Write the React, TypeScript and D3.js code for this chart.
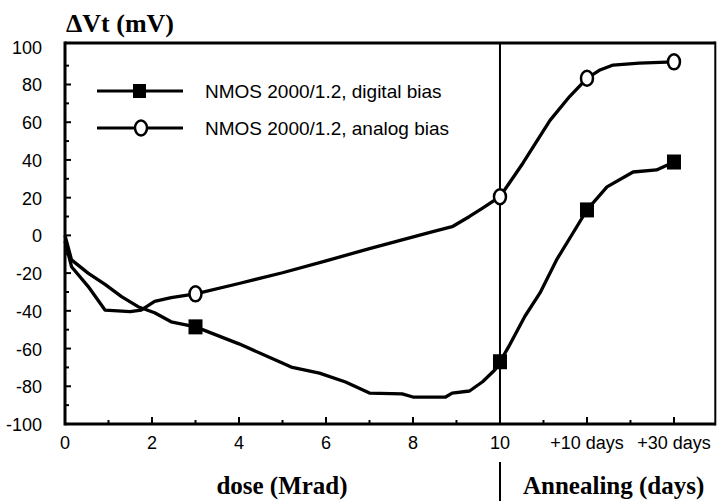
import * as d3 from "d3";

// dose axis: 0..10 Mrad, then annealing steps (12 = +10 days, 14 = +30 days)
const tickPos = [1, 2, 3, 4, 5, 6, 7, 8, 9, 10, 11, 12, 13, 14];
const majorTicks = [2, 4, 6, 8, 10, 12, 14];
const xLabelPos = [0, 2, 4, 6, 8, 10, 12, 14];
const xLabelText = ["0", "2", "4", "6", "8", "10", "+10 days", "+30 days"];

const yTickPos = [-90, -80, -70, -60, -50, -40, -30, -20, -10, 0, 10, 20, 30, 40, 50, 60, 70, 80, 90];
const yLabels = [100, 80, 60, 40, 20, 0, -20, -40, -60, -80, -100];

const digitalX = [0, 0.15, 0.53, 0.92, 1.3, 1.68, 2.06, 2.44, 3, 4, 4.93, 5.2, 5.85, 6.45, 7.0, 7.75, 8.0, 8.75, 8.9, 9.3, 9.6, 9.88, 10, 10.2, 10.57, 10.92, 11.3, 11.79, 12, 12.46, 13.06, 13.6, 14];
const digitalY = [0, -13, -20, -26, -32.5, -37.8, -41, -45.8, -48.5, -57.5, -67, -69.8, -73, -77.7, -83.6, -84, -85.7, -85.7, -83.6, -82.5, -77.6, -71.4, -67, -59, -43, -30.5, -13, 5.5, 13.5, 25.7, 33.6, 34.7, 38.9];

const analogX = [0, 0.15, 0.53, 0.92, 1.5, 1.75, 2.06, 2.44, 3, 4, 5, 6, 7, 7.6, 8.37, 8.9, 9.29, 9.6, 10, 10.53, 11.15, 11.6, 12, 12.3, 12.6, 13.2, 14];
const analogY = [-3, -16.6, -27, -39.6, -40.4, -39.6, -35, -33, -31, -25.5, -19.8, -13.5, -7, -3.3, 1.5, 4.6, 9.9, 14.4, 20.5, 38.4, 61, 73.6, 83.3, 87.7, 90.3, 91.3, 92];

const markX = [3, 10, 12, 14];
const digitalMarkY = [-48.5, -67, 13.5, 38.9];
const analogMarkY = [-31, 20.5, 83.3, 92];

const legendLabels = ["NMOS 2000/1.2, digital bias", "NMOS 2000/1.2, analog bias"];

const sans = "'Liberation Sans', Arial, sans-serif";
const serif = "'Liberation Serif', 'Times New Roman', serif";

export default function App() {
  const x = d3.scaleLinear().domain([0, 14.95]).range([65, 715.3]);
  const y = d3.scaleLinear().domain([-100, 102]).range([424, 43]);

  const line = d3
    .line<[number, number]>()
    .x((d) => x(d[0]))
    .y((d) => y(d[1]));

  const digitalPts = digitalX.map((v, i) => [v, digitalY[i]] as [number, number]);
  const analogPts = analogX.map((v, i) => [v, analogY[i]] as [number, number]);

  const left = x(0);
  const right = x(14.95);
  const top = y(102);
  const bottom = y(-100);

  return (
    <svg
      width={717}
      height={501}
      style={{ position: "absolute", left: 0, top: 0, background: "#fff" }}
    >
      {/* title */}
      <text x={66} y={32} fontFamily={serif} fontWeight="bold" fontSize={26}>
        ΔVt (mV)
      </text>

      {/* frame */}
      <line x1={left} x2={right} y1={top} y2={top} stroke="#000" strokeWidth={3} />
      <line x1={left} x2={right} y1={bottom} y2={bottom} stroke="#000" strokeWidth={3} />
      <line x1={left} x2={left} y1={top - 1.5} y2={bottom + 1.5} stroke="#000" strokeWidth={3} />
      <line x1={right} x2={right} y1={top - 1.5} y2={bottom + 1.5} stroke="#000" strokeWidth={2} />

      {/* y ticks */}
      {yTickPos.map((v) => (
        <line
          key={"yt" + v}
          x1={left}
          x2={left + (v % 20 === 0 ? 6 : 4)}
          y1={y(v)}
          y2={y(v)}
          stroke="#000"
          strokeWidth={2}
        />
      ))}
      {yLabels.map((v) => (
        <text
          key={"yl" + v}
          x={42}
          y={y(v) + 7}
          textAnchor="end"
          fontFamily={sans}
          fontSize={18}
        >
          {v}
        </text>
      ))}

      {/* x ticks */}
      {tickPos.map((v) => (
        <line
          key={"xt" + v}
          x1={x(v)}
          x2={x(v)}
          y1={bottom}
          y2={bottom - (majorTicks.includes(v) ? 7 : 4)}
          stroke="#000"
          strokeWidth={2}
        />
      ))}
      {xLabelPos.map((v, i) => (
        <text
          key={"xl" + v}
          x={x(v)}
          y={449}
          textAnchor="middle"
          fontFamily={sans}
          fontSize={18}
        >
          {xLabelText[i]}
        </text>
      ))}

      {/* separator between dose and annealing */}
      <line x1={x(10)} x2={x(10)} y1={top} y2={bottom} stroke="#000" strokeWidth={2} />
      <line x1={x(10)} x2={x(10)} y1={462} y2={501} stroke="#000" strokeWidth={2} />

      <text x={282} y={494} textAnchor="middle" fontFamily={serif} fontWeight="bold" fontSize={25}>
        dose (Mrad)
      </text>
      <text x={523} y={494} fontFamily={serif} fontWeight="bold" fontSize={25}>
        Annealing (days)
      </text>

      {/* curves */}
      <path d={line(digitalPts) ?? ""} fill="none" stroke="#000" strokeWidth={3.3} strokeLinejoin="round" />
      <path d={line(analogPts) ?? ""} fill="none" stroke="#000" strokeWidth={3.3} strokeLinejoin="round" />

      {markX.map((v, i) => (
        <rect
          key={"dm" + v}
          x={x(v) - 7}
          y={y(digitalMarkY[i]) - 7.5}
          width={14}
          height={15}
          fill="#000"
        />
      ))}
      {markX.map((v, i) => (
        <ellipse
          key={"am" + v}
          cx={x(v)}
          cy={y(analogMarkY[i])}
          rx={6}
          ry={7.5}
          fill="#fff"
          stroke="#000"
          strokeWidth={2.5}
        />
      ))}

      {/* legend */}
      {legendLabels.map((t, i) => {
        const ly = 91 + i * 37;
        return (
          <g key={t}>
            <line x1={97} x2={183} y1={ly} y2={ly} stroke="#000" strokeWidth={3} />
            {i === 0 ? (
              <rect x={133} y={ly - 7} width={13} height={14} fill="#000" />
            ) : (
              <ellipse cx={141} cy={ly} rx={6} ry={7.5} fill="#fff" stroke="#000" strokeWidth={2.5} />
            )}
            <text x={205} y={ly + 7} fontFamily={sans} fontSize={19}>
              {t}
            </text>
          </g>
        );
      })}
    </svg>
  );
}
